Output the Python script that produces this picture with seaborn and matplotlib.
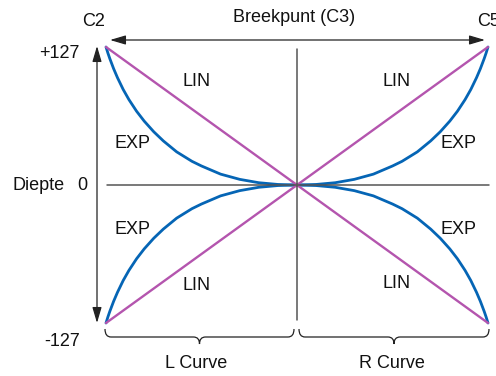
import numpy as np
import pandas as pd
import matplotlib
matplotlib.use("Agg")
import matplotlib.pyplot as plt
import matplotlib.transforms as mtransforms
from matplotlib.path import Path
from matplotlib.patches import PathPatch, FancyArrowPatch
import seaborn as sns

# Labels
key_labels = ["C2", "Breekpunt (C3)", "C5"]
depth_labels = ["+127", "0", "-127"]
curve_labels = ["L Curve", "R Curve"]
depth_axis_label = "Diepte"

# EXP curve: position from the outer key (0) to breakpoint (1)
exp_pos = [0, 0.01, 0.02, 0.04, 0.06, 0.09, 0.12, 0.16, 0.2, 0.25, 0.3, 0.37,
           0.45, 0.5, 0.6, 0.7, 0.8, 0.9, 1.0]
exp_depth = [127, 121.4, 116.3, 107, 98.8, 87.9, 78.6, 67.9, 58.8, 49, 40.6, 30.5,
             21.8, 17.5, 10, 5.2, 2.1, 0.5, 0]

# LIN line: straight from the outer key to the breakpoint
lin_pos = [0, 1]
lin_depth = [127, 0]

# build long-form tables, x runs from -1 (C2) via 0 (breakpoint) to 1 (C5)
rows = []
for name, side, sign in [("L+", -1, 1), ("L-", -1, -1), ("R+", 1, 1), ("R-", 1, -1)]:
    for p, d in zip(exp_pos, exp_depth):
        rows.append({"x": side * (1 - p), "depth": sign * d, "curve": name})
exp_df = pd.DataFrame(rows)

rows = []
for name, side, sign in [("L+", -1, 1), ("L-", -1, -1), ("R+", 1, 1), ("R-", 1, -1)]:
    for p, d in zip(lin_pos, lin_depth):
        rows.append({"x": side * (1 - p), "depth": sign * d, "curve": name})
lin_df = pd.DataFrame(rows)

sns.set_style("white")
plt.rcParams["font.family"] = ["Liberation Sans", "DejaVu Sans"]

W, H = 496, 376
fig = plt.figure(figsize=(W / 100, H / 100), dpi=100)
ax = fig.add_axes([0, 0, 1, 1])
ax.axis("off")

# map data onto the picture: x -1 -> px 106, 1 -> px 488 ; depth 127 -> py 47, -127 -> py 323
xs = 382 / 2
ys = 276 / 254
ax.set_xlim(-1 - 106 / xs, 1 + (W - 488) / xs)
ax.set_ylim(-127 - (H - 323) / ys, 127 + 47 / ys)

# pixel transform (top-left origin) for the annotations
px = mtransforms.Affine2D().scale(1 / W, -1 / H).translate(0, 1) + fig.transFigure

# axis lines
grey = "#555555"
fig.add_artist(plt.Line2D([107, 489], [185, 185], color=grey, lw=1.1, transform=px))
fig.add_artist(plt.Line2D([296.5, 296.5], [49, 320], color=grey, lw=1.1, transform=px))

sns.lineplot(data=exp_df, x="x", y="depth", units="curve", estimator=None, sort=False,
             color="#0565b5", lw=2.0, ax=ax, legend=False)
sns.lineplot(data=lin_df, x="x", y="depth", units="curve", estimator=None, sort=False,
             color="#b455ae", lw=1.7, ax=ax, legend=False)
ax.axis("off")

# arrows
arrow_kw = dict(arrowstyle="<|-|>,head_length=0.95,head_width=0.28", mutation_scale=10,
                color="#222222", lw=0.9, shrinkA=0, shrinkB=0, transform=px)
fig.add_artist(FancyArrowPatch((110, 40), (485, 40), **arrow_kw))
fig.add_artist(FancyArrowPatch((97, 46), (97, 323), **arrow_kw))


def brace(x0, x1, ytop=329, ymid=337, ytip=344, r=6):
    xm = (x0 + x1) / 2
    verts = [(x0, ytop), (x0, ymid), (x0 + r, ymid),
             (xm - r, ymid), (xm, ymid), (xm, ytip),
             (xm, ymid), (xm + r, ymid),
             (x1 - r, ymid), (x1, ymid), (x1, ytop)]
    codes = [Path.MOVETO, Path.CURVE3, Path.CURVE3,
             Path.LINETO, Path.CURVE3, Path.CURVE3,
             Path.CURVE3, Path.CURVE3,
             Path.LINETO, Path.CURVE3, Path.CURVE3]
    fig.add_artist(PathPatch(Path(verts, codes), fill=False, ec="#222222", lw=0.9,
                             transform=px))


brace(105, 294)
brace(299, 489)

fs = 13
txt = dict(fontsize=fs, color="#111111", transform=px, va="center")
fig.text(93.5, 21, key_labels[0], ha="center", **txt)
fig.text(294, 17, key_labels[1], ha="center", **txt)
fig.text(477, 22, key_labels[2], ha="left", **txt)
fig.text(59, 53, depth_labels[0], ha="center", **txt)
fig.text(65, 186, depth_axis_label, ha="right", **txt)
fig.text(82.5, 186, depth_labels[1], ha="center", **txt)
fig.text(62.5, 341, depth_labels[2], ha="center", **txt)
fig.text(196, 364, curve_labels[0], ha="center", **txt)
fig.text(392, 363, curve_labels[1], ha="center", **txt)

for x, y, s in [(197, 82, "LIN"), (397, 82, "LIN"), (197, 285, "LIN"), (397, 284, "LIN"),
                (132.5, 143, "EXP"), (458, 143, "EXP"), (132.5, 229, "EXP"), (458, 229, "EXP")]:
    fig.text(x, y, s, ha="center", **txt)

fig.savefig("out.png", dpi=100)
